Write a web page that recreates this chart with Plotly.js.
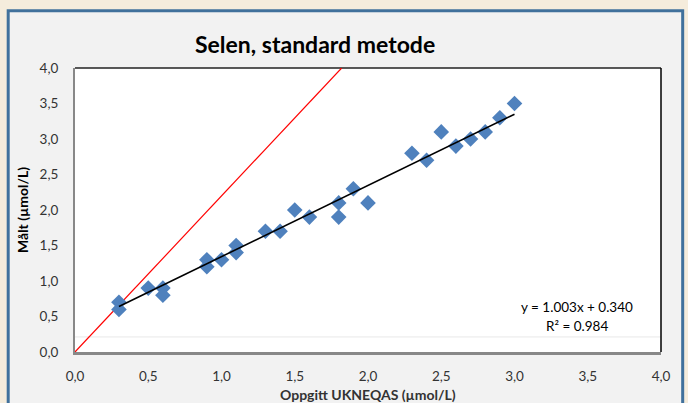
<!DOCTYPE html>
<html>
<head>
<meta charset="utf-8">
<script src="https://cdn.plot.ly/plotly-3.0.1.min.js"></script>
<style>
html,body{margin:0;padding:0;background:#f5ecdc;}
#chart{width:688px;height:403px;}
</style>
</head>
<body>
<div id="chart"></div>
<script>
// Reported values (Oppgitt UKNEQAS) and measured values (Målt)
var oppgitt = [0.3, 0.3, 0.5, 0.6, 0.6, 0.9, 0.9, 1.0, 1.1, 1.1, 1.3, 1.4, 1.5, 1.6, 1.8, 1.8, 1.9, 2.0, 2.3, 2.4, 2.5, 2.6, 2.7, 2.8, 2.9, 3.0];
var maalt   = [0.7, 0.6, 0.9, 0.9, 0.8, 1.3, 1.2, 1.3, 1.5, 1.4, 1.7, 1.7, 2.0, 1.9, 2.1, 1.9, 2.3, 2.1, 2.8, 2.7, 3.1, 2.9, 3.0, 3.1, 3.3, 3.5];
// Linear trend line endpoints (y = 1.003x + 0.340)
var trendX = [0.3, 3.0];
var trendY = [0.641, 3.349];
// Red reference line endpoints as drawn
var refX = [0, 1.82];
var refY = [0, 4.0];
var tickVals = [0, 0.5, 1, 1.5, 2, 2.5, 3, 3.5, 4];
var tickText = ['0,0','0,5','1,0','1,5','2,0','2,5','3,0','3,5','4,0'];

var FONT = 'Lato, "Open Sans", sans-serif';

var traces = [
  {x: refX, y: refY, mode: 'lines', line: {color: '#ff0000', width: 1.2}, hoverinfo: 'skip'},
  {x: oppgitt, y: maalt, mode: 'markers', marker: {symbol: 'diamond', size: 12, color: '#4f81bd'}},
  {x: trendX, y: trendY, mode: 'lines', line: {color: '#000000', width: 1.6}}
];

var layout = {
  width: 688, height: 403,
  margin: {l: 75, r: 27, t: 68, b: 51, pad: 0},
  paper_bgcolor: '#f5ecdc',
  plot_bgcolor: 'rgba(0,0,0,0)',
  showlegend: false,
  font: {family: FONT, size: 13.5, color: '#333333'},
  xaxis: {
    range: [0, 4], tickvals: tickVals, ticktext: tickText,
    showgrid: false, zeroline: false, showline: true, linecolor: '#888888', linewidth: 2.5,
    ticks: '', ticklabelstandoff: 10, fixedrange: true,
    tickfont: {family: FONT, size: 13.5, color: '#333333'}
  },
  yaxis: {
    range: [0, 4], tickvals: tickVals, ticktext: tickText,
    showgrid: false, zeroline: false, showline: true, linecolor: '#888888', linewidth: 2,
    ticks: '', ticklabelstandoff: 12, fixedrange: true,
    tickfont: {family: FONT, size: 13.5, color: '#333333'}
  },
  shapes: [
    {type: 'rect', xref: 'paper', yref: 'paper', x0: -0.114, x1: 1.037, y0: -0.3, y1: 1.202,
     fillcolor: '#f2f2f2', line: {color: '#41719c', width: 3}, layer: 'below'},
    {type: 'rect', xref: 'paper', yref: 'paper', x0: 0, x1: 1, y0: 0, y1: 1,
     fillcolor: '#ffffff', line: {width: 0}, layer: 'below'},
    {type: 'line', xref: 'paper', yref: 'paper', x0: 0, x1: 1, y0: 0.053, y1: 0.053,
     line: {color: '#e8e8e8', width: 1}, layer: 'below'},
    {type: 'line', xref: 'paper', yref: 'paper', x0: 0, x1: 1, y0: 1, y1: 1,
     line: {color: '#222222', width: 1.5}, layer: 'below'},
    {type: 'line', xref: 'paper', yref: 'paper', x0: 1, x1: 1, y0: 0, y1: 1,
     line: {color: '#000000', width: 1.5}, layer: 'below'}
  ],
  annotations: [
    {text: '<b>Selen, standard metode</b>', xref: 'paper', yref: 'paper', x: 0.41, y: 1.085,
     xanchor: 'center', yanchor: 'middle', showarrow: false, font: {family: FONT, size: 23, color: '#000000'}},
    {text: '<b>Målt (µmol/L)</b>', xref: 'paper', yref: 'paper', x: -0.0904, y: 0.5, textangle: -90,
     xanchor: 'center', yanchor: 'middle', showarrow: false, font: {family: FONT, size: 14, color: '#000000'}},
    {text: '<b>Oppgitt UKNEQAS (µmol/L)</b>', xref: 'paper', yref: 'paper', x: 0.5, y: -0.148,
     xanchor: 'center', yanchor: 'middle', showarrow: false, font: {family: FONT, size: 14, color: '#333333'}},
    {text: 'y = 1.003x + 0.340', xref: 'paper', yref: 'paper', x: 0.857, y: 0.158,
     xanchor: 'center', yanchor: 'middle', showarrow: false, font: {family: FONT, size: 13.5, color: '#000000'}},
    {text: 'R² = 0.984', xref: 'paper', yref: 'paper', x: 0.857, y: 0.092,
     xanchor: 'center', yanchor: 'middle', showarrow: false, font: {family: FONT, size: 13.5, color: '#000000'}}
  ]
};

Plotly.newPlot('chart', traces, layout, {displayModeBar: false, staticPlot: true});
</script>
</body>
</html>
